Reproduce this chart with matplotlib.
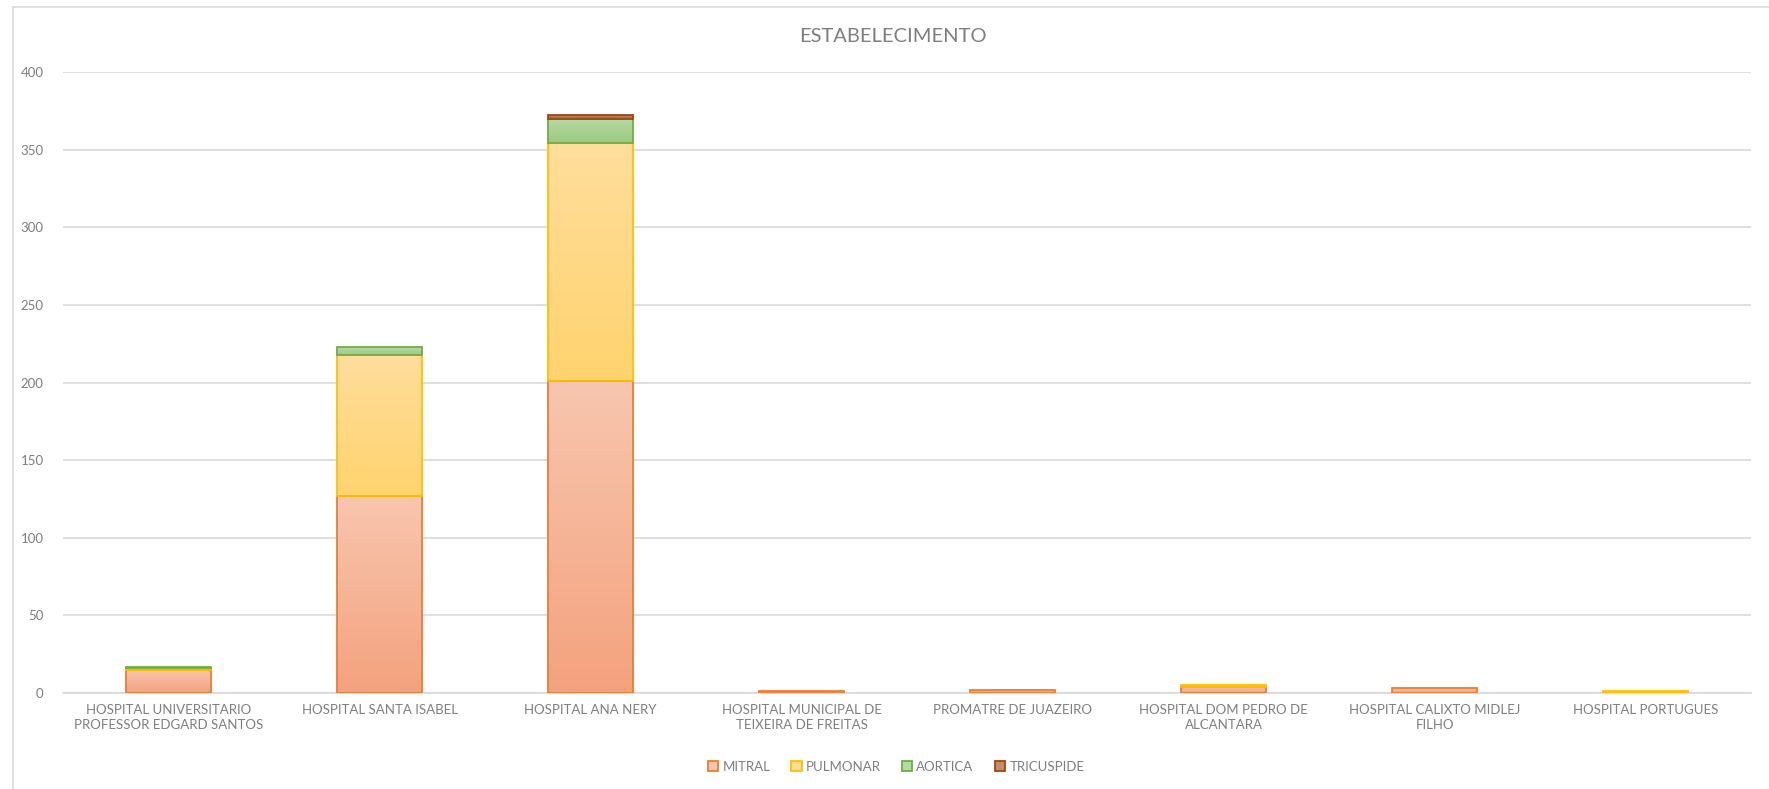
import matplotlib
matplotlib.use("Agg")
import matplotlib.pyplot as plt
import numpy as np
from matplotlib.colors import LinearSegmentedColormap
from matplotlib.patches import Rectangle, Patch

plt.rcParams['font.family'] = ['Lato', 'DejaVu Sans']

categories = ["HOSPITAL UNIVERSITARIO\nPROFESSOR EDGARD SANTOS", "HOSPITAL SANTA ISABEL",
              "HOSPITAL ANA NERY", "HOSPITAL MUNICIPAL DE\nTEIXEIRA DE FREITAS",
              "PROMATRE DE JUAZEIRO", "HOSPITAL DOM PEDRO DE\nALCANTARA",
              "HOSPITAL CALIXTO MIDLEJ\nFILHO", "HOSPITAL PORTUGUES"]
mitral = [15, 127, 201, 1, 2, 4, 3, 0]
pulmonar = [1, 91, 153, 0, 0, 1, 0, 1]
aortica = [1, 5, 16, 0, 0, 0, 0, 0]
tricuspide = [0, 0, 2, 0, 0, 0, 0, 0]
series_names = ["MITRAL", "PULMONAR", "AORTICA", "TRICUSPIDE"]
yticks = [0, 50, 100, 150, 200, 250, 300, 350, 400]

styles = [
    ("#F4A27E", "#F8C6AF", "#ED7D31"),
    ("#FFD36E", "#FFDE9C", "#FFC000"),
    ("#9BC981", "#B7DAA3", "#70AD47"),
    ("#A9583A", "#C98A6E", "#9E480E"),
]

fig = plt.figure(figsize=(17.69, 7.89), dpi=100)
ax = fig.add_axes([63/1769, 1-693/789, (1751-63)/1769, (693-72)/789])

x = np.arange(len(categories))
width = 0.4
bottom = np.zeros(len(categories))
grad = np.linspace(0, 1, 256).reshape(-1, 1)
for vals, (c_bot, c_top, edge) in zip([mitral, pulmonar, aortica, tricuspide], styles):
    vals = np.array(vals, dtype=float)
    cmap = LinearSegmentedColormap.from_list("g", [c_bot, c_top])
    bars = ax.bar(x, vals, width, bottom=bottom, color=c_bot, edgecolor=edge, linewidth=1.3, zorder=3)
    for b, v in zip(bars, vals):
        if v <= 0:
            b.set_visible(False)
            continue
        x0, y0 = b.get_x(), b.get_y()
        im = ax.imshow(grad, cmap=cmap, origin='lower', aspect='auto',
                       extent=[x0, x0 + b.get_width(), y0, y0 + b.get_height()], zorder=3)
        im.set_clip_path(b)
        b.set_facecolor('none')
        b.set_zorder(4)
    bottom += vals

ax.set_xlim(-0.5, len(categories) - 0.5)
ax.set_ylim(0, 400)
ax.set_yticks(yticks)
ax.set_xticks(x)
ax.set_xticklabels(categories, fontsize=9.5, color="#7F7F7F", linespacing=1.3)
ax.tick_params(axis='y', labelsize=9.5, labelcolor="#7F7F7F", length=0, pad=14)
ax.tick_params(axis='x', length=0, pad=8)
ax.grid(axis='y', color="#D9D9D9", linewidth=1.2, zorder=0)
ax.set_axisbelow(True)
for s in ["top", "right", "left"]:
    ax.spines[s].set_visible(False)
ax.spines["bottom"].set_color("#D9D9D9")
ax.spines["bottom"].set_linewidth(1.2)

fig.text(893/1769, 1 - 36/789, "ESTABELECIMENTO", ha='center', va='center', fontsize=14.5, color="#7F7F7F")

handles = [Patch(facecolor=s[1], edgecolor=s[2], linewidth=1.3) for s in styles]
fig.legend(handles, series_names, loc='center', bbox_to_anchor=(896/1769, 1 - 767/789), ncol=4,
           frameon=False, fontsize=9.5, labelcolor="#7F7F7F", handlelength=0.8, handleheight=0.8,
           handletextpad=0.3, columnspacing=1.6)

fig.patches.append(Rectangle((13/1769, -0.01), 1.02, 1 - 7/789 + 0.01, transform=fig.transFigure,
                             fill=False, edgecolor="#D9D9D9", linewidth=1.2))

fig.savefig("out.png", dpi=100)
